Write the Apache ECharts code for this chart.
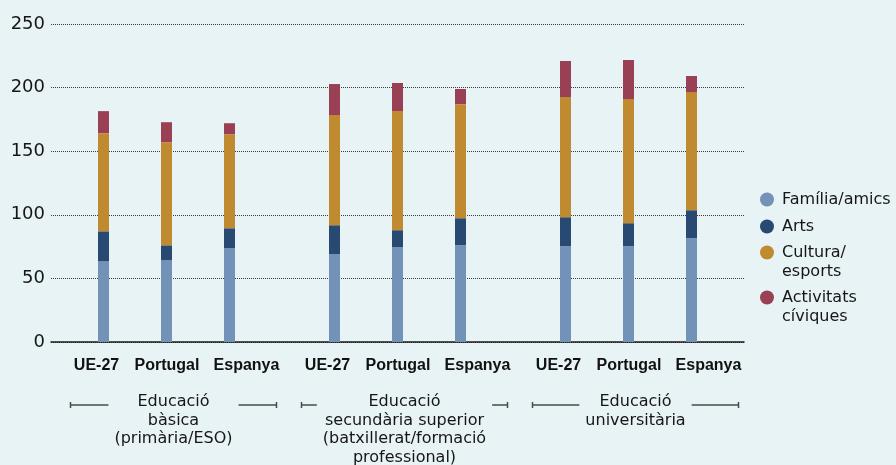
<!DOCTYPE html>
<html>
<head>
<meta charset="utf-8">
<title>Activitats per nivell educatiu</title>
<script src="https://cdn.jsdelivr.net/npm/echarts@6/dist/echarts.min.js"></script>
<style>
  html, body { margin: 0; padding: 0; background: #e8f3f5; }
  #chart { width: 896px; height: 465px; }
</style>
</head>
<body>
<div id="chart"></div>
<script>
const countries = ['UE-27', 'Portugal', 'Espanya']
const levels = [
  'Educació\nbàsica\n(primària/ESO)',
  'Educació\nsecundària superior\n(batxillerat/formació\nprofessional)',
  'Educació\nuniversitària',
]
const seriesNames = ['Família/amics', 'Arts', 'Cultura/\nesports', 'Activitats\ncíviques']
// values per bar: UE-27, Portugal, Espanya for each level in turn
const familia = [63.4, 64.2, 73.6, 69.0, 74.5, 76.1, 75.3, 75.3, 81.6]
const arts = [23.6, 11.8, 15.8, 22.8, 13.4, 21.2, 22.8, 18.1, 22.0]
const cultura = [77.2, 81.1, 74.0, 86.6, 93.7, 89.7, 94.5, 97.6, 92.9]
const civiques = [17.3, 15.7, 8.6, 24.4, 22.0, 11.9, 28.3, 30.7, 12.6]
const yTicks = [0, 50, 100, 150, 200, 250]

const colors = ['#7292b8', '#284a72', '#c08b30', '#9a4055']
const textColor = '#161616'
const font = 'DejaVu Sans'

// category slots, empty ones make the gaps between bars and between groups
const slots = []
const pad = (n) => { for (let i = 0; i < n; i++) slots.push(null) }
pad(2)
levels.forEach((_, g) => {
  if (g > 0) pad(4)
  countries.forEach((_, c) => {
    if (c > 0) pad(2)
    slots.push(g * countries.length + c)
  })
})
pad(2)

const categories = slots.map((s) => (s === null ? '' : countries[s % countries.length]))
const toSlots = (arr) => slots.map((s) => (s === null ? '-' : arr[s]))

// the labels sit a little off the bar centres in the original
const labelKey = { 'UE-27': 'u', Portugal: 'p', Espanya: 'e' }
const labelBase = { fontFamily: 'Liberation Sans', fontWeight: 'bold', fontSize: 16, lineHeight: 16, color: '#111' }

const legendTops = [190, 217, 224, 269]

const option = {
  backgroundColor: '#e8f3f5',
  animation: false,
  grid: { left: 51, right: 152, top: 24, bottom: 123 },
  xAxis: {
    type: 'category',
    data: categories,
    axisTick: { show: false },
    axisLine: { lineStyle: { color: '#1c1c1c', width: 1.5 } },
    axisLabel: {
      interval: 0,
      margin: 16,
      formatter: (v) => (v ? `{${labelKey[v]}|${v}}` : ''),
      rich: {
        u: { ...labelBase, padding: [0, 14, 0, 0] },
        p: { ...labelBase, padding: [0, 0, 0, 1] },
        e: { ...labelBase, padding: [0, 0, 0, 34] },
      },
    },
  },
  yAxis: {
    type: 'value',
    min: yTicks[0],
    max: yTicks[yTicks.length - 1],
    interval: yTicks[1] - yTicks[0],
    axisLine: { show: false },
    axisTick: { show: false },
    axisLabel: { margin: 6, color: textColor, fontFamily: font, fontSize: 18 },
    splitLine: { lineStyle: { color: '#3a3a3a', type: 'dotted', width: 1 } },
  },
  // one legend per item so the two-line names can hang below their dot
  legend: seriesNames.map((name, i) => ({
    data: [name],
    left: 760,
    top: legendTops[i],
    padding: 0,
    selectedMode: false,
    icon: 'circle',
    itemWidth: 14,
    itemHeight: 14,
    formatter: (n) => (n.includes('\n') ? '\n' + n : n),
    textStyle: {
      color: textColor,
      fontFamily: font,
      fontSize: 16,
      lineHeight: 19,
      padding: [0, 0, 0, 3],
    },
  })),
  series: [familia, arts, cultura, civiques].map((arr, i) => ({
    name: seriesNames[i],
    type: 'bar',
    stack: 'total',
    barWidth: 11,
    data: toSlots(arr),
    itemStyle: { color: colors[i] },
  })),
}

const chart = echarts.init(document.getElementById('chart'))
chart.setOption(option)

// group names with bracket lines under the country labels
const ctx = document.createElement('canvas').getContext('2d')
ctx.font = `16px "${font}"`
const graphics = []
const bracketY = 405
levels.forEach((label, g) => {
  const mid = slots.indexOf(g * countries.length + 1)
  const cx = chart.convertToPixel({ xAxisIndex: 0 }, mid) + 7
  const inner = Math.max(...label.split('\n').map((t) => ctx.measureText(t).width)) / 2 + 6
  const outer = 103
  const lineStyle = { stroke: '#4a4a4a', lineWidth: 1.5 }
  graphics.push(
    { type: 'line', shape: { x1: cx - outer, y1: bracketY, x2: cx - inner, y2: bracketY }, style: lineStyle },
    { type: 'line', shape: { x1: cx + inner, y1: bracketY, x2: cx + outer, y2: bracketY }, style: lineStyle },
    { type: 'line', shape: { x1: cx - outer, y1: bracketY - 3, x2: cx - outer, y2: bracketY + 3 }, style: lineStyle },
    { type: 'line', shape: { x1: cx + outer, y1: bracketY - 3, x2: cx + outer, y2: bracketY + 3 }, style: lineStyle },
    {
      type: 'text',
      x: cx,
      y: 393,
      style: {
        text: label,
        align: 'center',
        verticalAlign: 'top',
        fontFamily: font,
        fontSize: 16,
        lineHeight: 18.5,
        fill: textColor,
      },
    }
  )
})
chart.setOption({ graphic: graphics })
</script>
</body>
</html>
